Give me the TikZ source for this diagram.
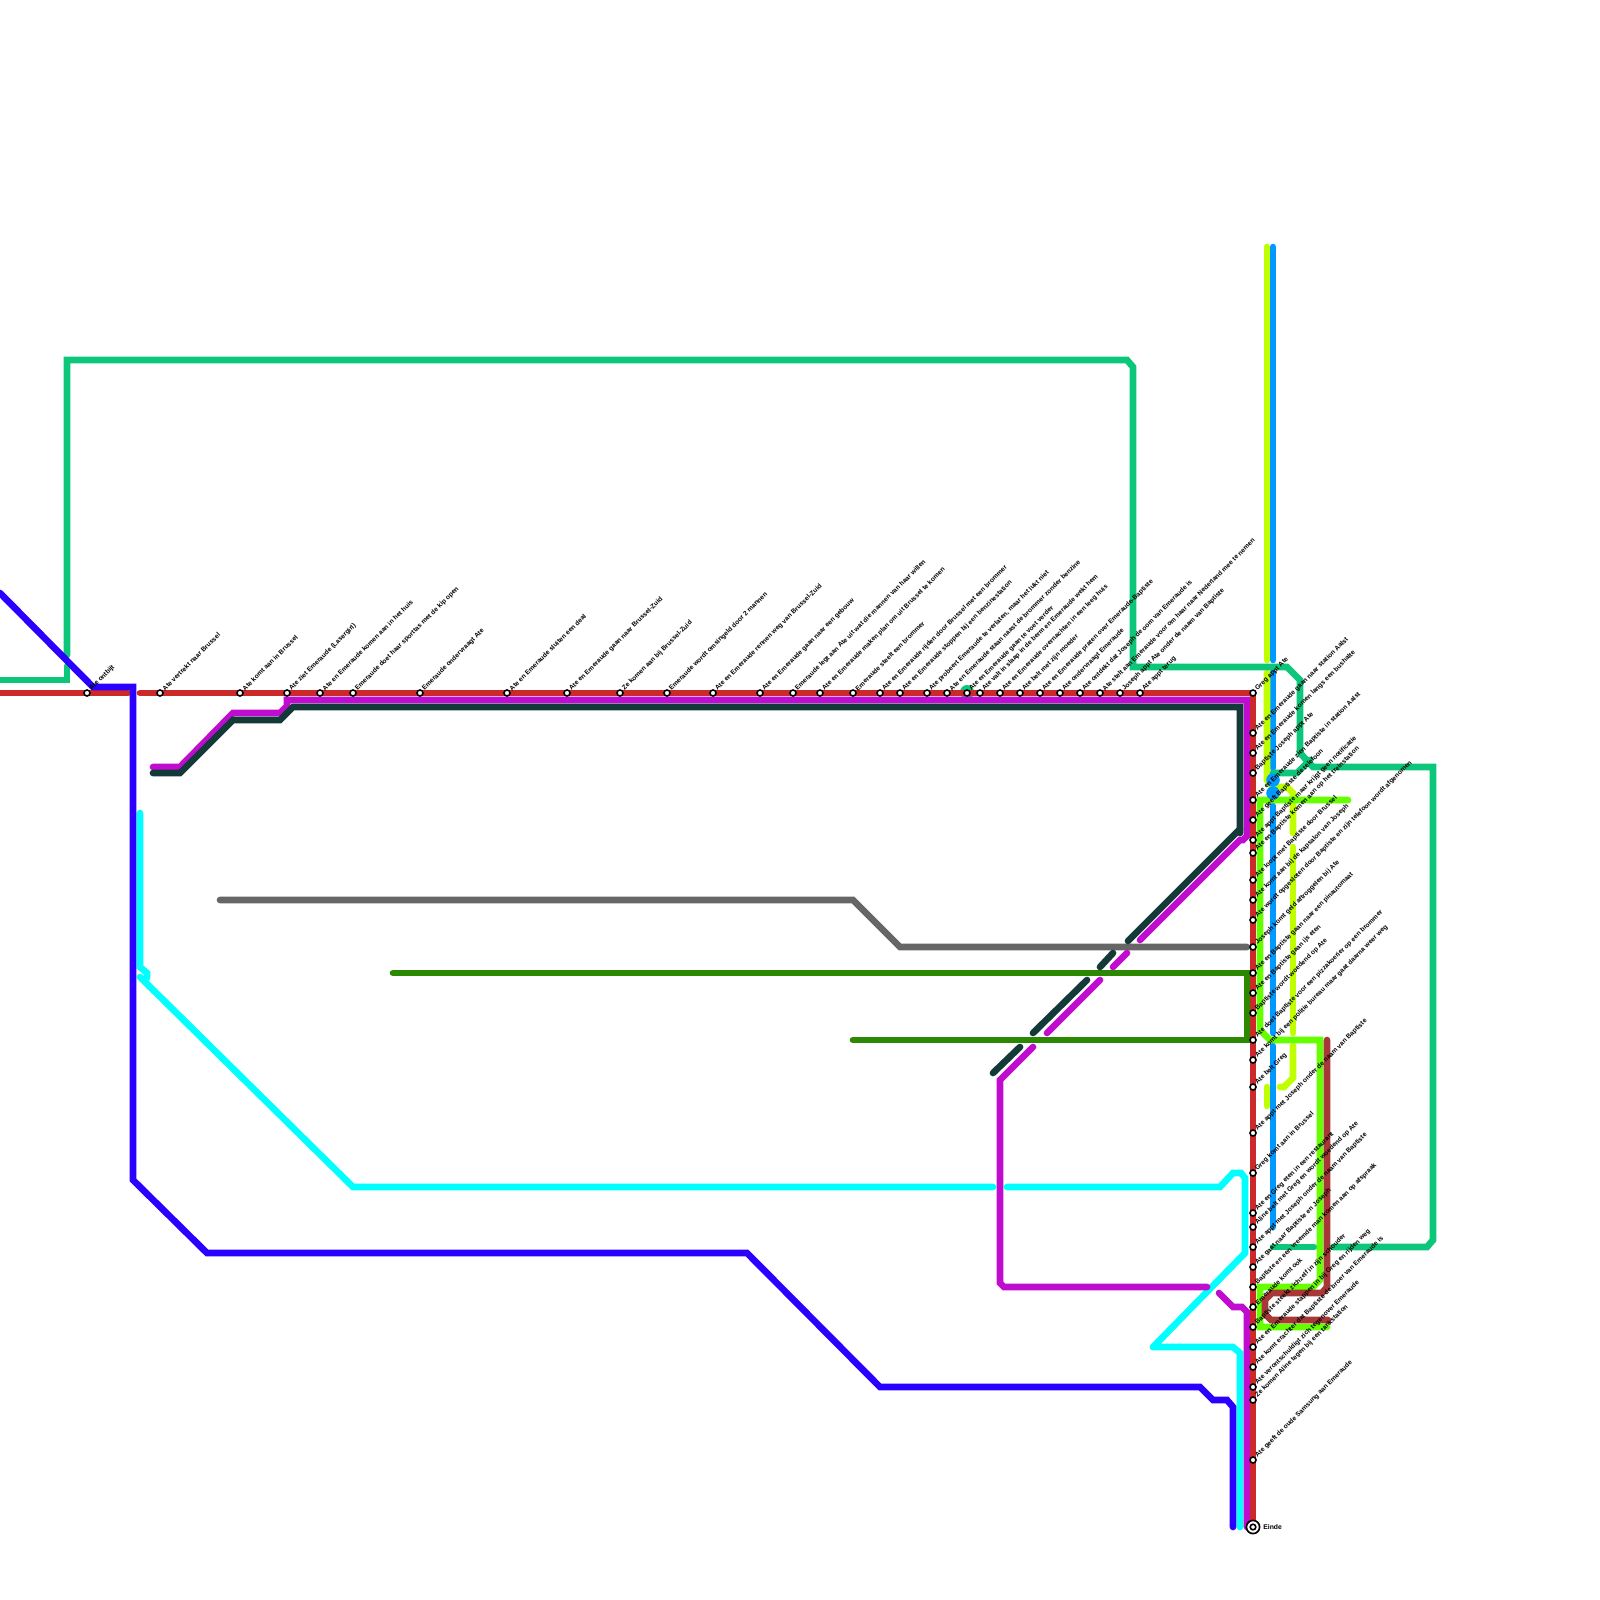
\documentclass[tikz,border=0pt]{standalone}
\usepackage{fontspec}
\setmainfont{Liberation Sans}
\definecolor{cred}{HTML}{CC2A2A}
\definecolor{cmag}{HTML}{C00CCE}
\definecolor{cdark}{HTML}{133A38}
\definecolor{cblue}{HTML}{2B00FF}
\definecolor{ccyan}{HTML}{00FFFF}
\definecolor{cemer}{HTML}{0CC67A}
\definecolor{clime}{HTML}{BFFF00}
\definecolor{cbright}{HTML}{66FF00}
\definecolor{csky}{HTML}{0099FF}
\definecolor{cmaroon}{HTML}{A83838}
\definecolor{cgray}{HTML}{666666}
\definecolor{cgreen}{HTML}{2B8800}
\tikzset{
  metro/.style={line width=3.33pt,line cap=round,line join=miter},
  stn/.style={circle,draw=black,fill=white,line width=0.8pt,inner sep=0pt,minimum size=3pt},
  lbl/.style={anchor=west,rotate=45,inner sep=0pt,font=\fontsize{3.3}{4}\selectfont\bfseries,text=black},
}
\newcommand{\st}[3]{\node[stn] (s#1-#2) at (#1,#2) {};
  \node[lbl] (t#1-#2) at ([shift={(3.2,-3.2)}]s#1-#2.center) {#3};}
\begin{document}
\begin{tikzpicture}[x=0.5pt,y=-0.5pt]
\useasboundingbox (0,0) rectangle (1600,1600);
% small emerald dot behind the red line
\fill[cemer] (967,692) circle (7);
% sky blue
\draw[metro,csky] (1273,247)--(1273,660);
\draw[metro,csky] (1273,672)--(1273,768);
\draw[metro,csky] (1273,806)--(1273,1033);
\draw[metro,csky] (1273,1046)--(1273,1227);
% lime
\draw[metro,clime] (1267,247)--(1267,660);
\draw[metro,clime] (1267,673)--(1267,780)--(1273,787)--(1287,787)--(1293,793)--(1293,833);
\draw[metro,clime] (1293,847)--(1293,1033);
\draw[metro,clime] (1293,1046)--(1293,1078)--(1284,1087)--(1280,1087);
\draw[metro,clime] (1267,1087)--(1267,1106);
% emerald
\draw[metro,cemer] (0,680)--(67,680)--(67,666);
\draw[metro,cemer] (67,655)--(67,360)--(1127,360)--(1133,367)--(1133,667)--(1287,667)--(1300,680)--(1300,753)--(1313,767)--(1433,767)--(1433,1240)--(1427,1247)--(1333,1247);
\draw[metro,cemer] (1273,773)--(1297,773)--(1310,760);
\draw[metro,cemer] (1273,1247)--(1314,1247);
% bright green
\draw[metro,cbright] (1348,800)--(1260,800)--(1260,1030)--(1270,1040)--(1320,1040)--(1320,1280)--(1313,1287)--(1260,1287)--(1260,1327)--(1327,1327);
% sky dots
\fill[csky] (1273,780) circle (6.8);
\fill[csky] (1273,793) circle (6.8);
% maroon
\draw[metro,cmaroon] (1327,1040)--(1327,1287)--(1322,1293)--(1272,1293)--(1265,1300)--(1265,1314)--(1271,1320)--(1328,1320);
% gray
\draw[metro,cgray] (220,900)--(853,900)--(900,947)--(1247,947);
% dark green
\draw[metro,cgreen] (393,973)--(1247,973)--(1247,1040)--(853,1040);
% cyan
\draw[metro,ccyan] (140,813)--(140,967)--(147,973)--(147,978);
\draw[metro,ccyan] (140,977)--(353,1187)--(993,1187);
\draw[metro,ccyan] (1007,1187)--(1220,1187)--(1233,1173)--(1241,1173)--(1245,1178)--(1245,1253);
\draw[metro,ccyan,line join=round] (1245,1253)--(1153,1347)--(1233,1347);
\draw[metro,ccyan] (1233,1347)--(1240,1353)--(1240,1527);
% magenta
\draw[metro,cmag] (153,767)--(180,767)--(233,713)--(280,713)--(287,706)--(287,700)--(1247,700)--(1247,836)--(1243,840)--(1240,840)--(1140,940);
\draw[metro,cmag] (1127,953)--(1113,967);
\draw[metro,cmag] (1100,980)--(1047,1033);
\draw[metro,cmag] (1033,1047)--(1000,1080)--(1000,1283)--(1004,1287)--(1207,1287);
\draw[metro,cmag] (1219,1293)--(1233,1307)--(1242,1307)--(1247,1312)--(1247,1527);
% dark
\draw[metro,cdark] (153,773)--(180,773)--(233,720)--(280,720)--(293,707)--(1240,707)--(1240,833);
\draw[metro,cdark] (1240,829)--(1128,941);
\draw[metro,cdark] (1113,953)--(1100,967);
\draw[metro,cdark] (1087,980)--(1033,1033);
\draw[metro,cdark] (1020,1047)--(993,1073);
% red
\draw[metro,cred] (0,693)--(128,693);
\draw[metro,cred] (140,693)--(1253,693)--(1253,1527);
% blue
\draw[metro,cblue] (0,593)--(93,687)--(133,687)--(133,1180)--(207,1253)--(747,1253)--(880,1387)--(1200,1387)--(1213,1400)--(1227,1400)--(1233,1407)--(1233,1527);
% top row
\st{87}{693}{Ate ontbijt}
\st{160}{693}{Ate vertrekt naar Brussel}
\st{240}{693}{Ate komt aan in Brussel}
\st{287}{693}{Ate ziet Emeraude (Lasergirl)}
\st{320}{693}{Ate en Emeraude komen aan in het huis}
\st{353}{693}{Emeraude doet haar sporttas met de kip open}
\st{420}{693}{Emeraude ondervraagt Ate}
\st{507}{693}{Ate en Emeraude sluiten een deal}
\st{567}{693}{Ate en Emeraude gaan naar Brussel-Zuid}
\st{620}{693}{Ze komen aan bij Brussel-Zuid}
\st{667}{693}{Emeraude wordt omsingeld door 2 mannen}
\st{713}{693}{Ate en Emeraude rennen weg van Brussel-Zuid}
\st{760}{693}{Ate en Emeraude gaan naar een gebouw}
\st{793}{693}{Emeraude legt aan Ate uit wat die mannen van haar willen}
\st{820}{693}{Ate en Emeraude maken plan om uit Brussel te komen}
\st{853}{693}{Emeraude steelt een brommer}
\st{880}{693}{Ate en Emeraude rijden door Brussel met een brommer}
\st{900}{693}{Ate en Emeraude stoppen bij een benzinestation}
\st{927}{693}{Ate probeert Emeraude te verlaten, maar het lukt niet}
\st{947}{693}{Ate en Emeraude staan naast de brommer zonder benzine}
\st{967}{693}{Ate en Emeraude gaan te voet verder}
\st{980}{693}{Ate valt in slaap in de berm en Emeraude wekt hem}
\st{1000}{693}{Ate en Emeraude overnachten in een leeg huis}
\st{1020}{693}{Ate belt met zijn moeder}
\st{1040}{693}{Ate en Emeraude praten over Emeraude-Baptiste}
\st{1060}{693}{Ate ondervraagt Emeraude}
\st{1080}{693}{Ate ontdekt dat Joseph de oom van Emeraude is}
\st{1100}{693}{Ate stelt aan Emeraude voor om haar naar Nederland mee te nemen}
\st{1120}{693}{Joseph appt Ate onder de naam van Baptiste}
\st{1140}{693}{Ate appt terug}
% right column
\st{1253}{693}{Greg appt Ate}
\st{1253}{733}{Ate en Emeraude gaan naar station Aalst}
\st{1253}{753}{Ate en Emeraude komen langs een bushalte}
\st{1253}{773}{Baptiste Joseph appt Ate}
\st{1253}{800}{Ate en Emeraude zien Baptiste in station Aalst}
\st{1253}{820}{Ate geeft Baptiste de telefoon}
\st{1253}{840}{Ate appt Baptiste maar krijgt geen notificatie}
\st{1253}{853}{Ate en Baptiste komen aan op het treinstation}
\st{1253}{880}{Ate loopt met Baptiste door Brussel}
\st{1253}{900}{Ate komt aan bij de kapsalon van Joseph}
\st{1253}{920}{Ate wordt opgesloten door Baptiste en zijn telefoon wordt afgenomen}
\st{1253}{947}{Joseph komt geld aftroggelen bij Ate}
\st{1253}{973}{Ate en Baptiste gaan naar een pinautomaat}
\st{1253}{993}{Ate en Baptiste gaan ijs eten}
\st{1253}{1013}{Baptiste wordt woedend op Ate}
\st{1253}{1040}{Ate doet Baptiste voor een pizzakoerier op een brommer}
\st{1253}{1060}{Ate komt bij een politie bureau maar gaat daarna weer weg}
\st{1253}{1087}{Ate belt Greg}
\st{1253}{1133}{Ate appt met Joseph onder de naam van Baptiste}
\st{1253}{1173}{Greg komt aan in Brussel}
\st{1253}{1213}{Ate en Greg eten in een restaurant}
\st{1253}{1227}{Aline belt met Greg en wordt woedend op Ate}
\st{1253}{1247}{Ate appt met Joseph onder de naam van Baptiste}
\st{1253}{1267}{Ate gaat naar Baptiste en Joseph}
\st{1253}{1287}{Baptiste en een vreemde man komen aan op afspraak}
\st{1253}{1307}{Emeraude komt ook}
\st{1253}{1327}{Baptiste steekt zichzelf in zijn schouder}
\st{1253}{1347}{Ate en Emeraude stappen in bij Greg en rijden weg}
\st{1253}{1367}{Ate komt erachter dat Baptiste de broer van Emeraude is}
\st{1253}{1387}{Ate verontschuldigt zich tegenover Emeraude}
\st{1253}{1400}{Ze komen Aline tegen bij een tankstation}
\st{1253}{1460}{Ate geeft de oude Samsung aan Emeraude}
% terminus
\node[circle,draw=black,fill=white,line width=0.85pt,inner sep=0pt,minimum size=6.6pt] (eind) at (1253,1527) {};
\node[circle,draw=black,fill=white,line width=0.8pt,inner sep=0pt,minimum size=2.8pt] (eindin) at (eind.center) {};
\node[anchor=west,inner sep=0pt,font=\fontsize{3.4}{4}\selectfont\bfseries,text=black] (eindlbl) at ([xshift=5pt]eind.center) {Einde};
\end{tikzpicture}
\end{document}
